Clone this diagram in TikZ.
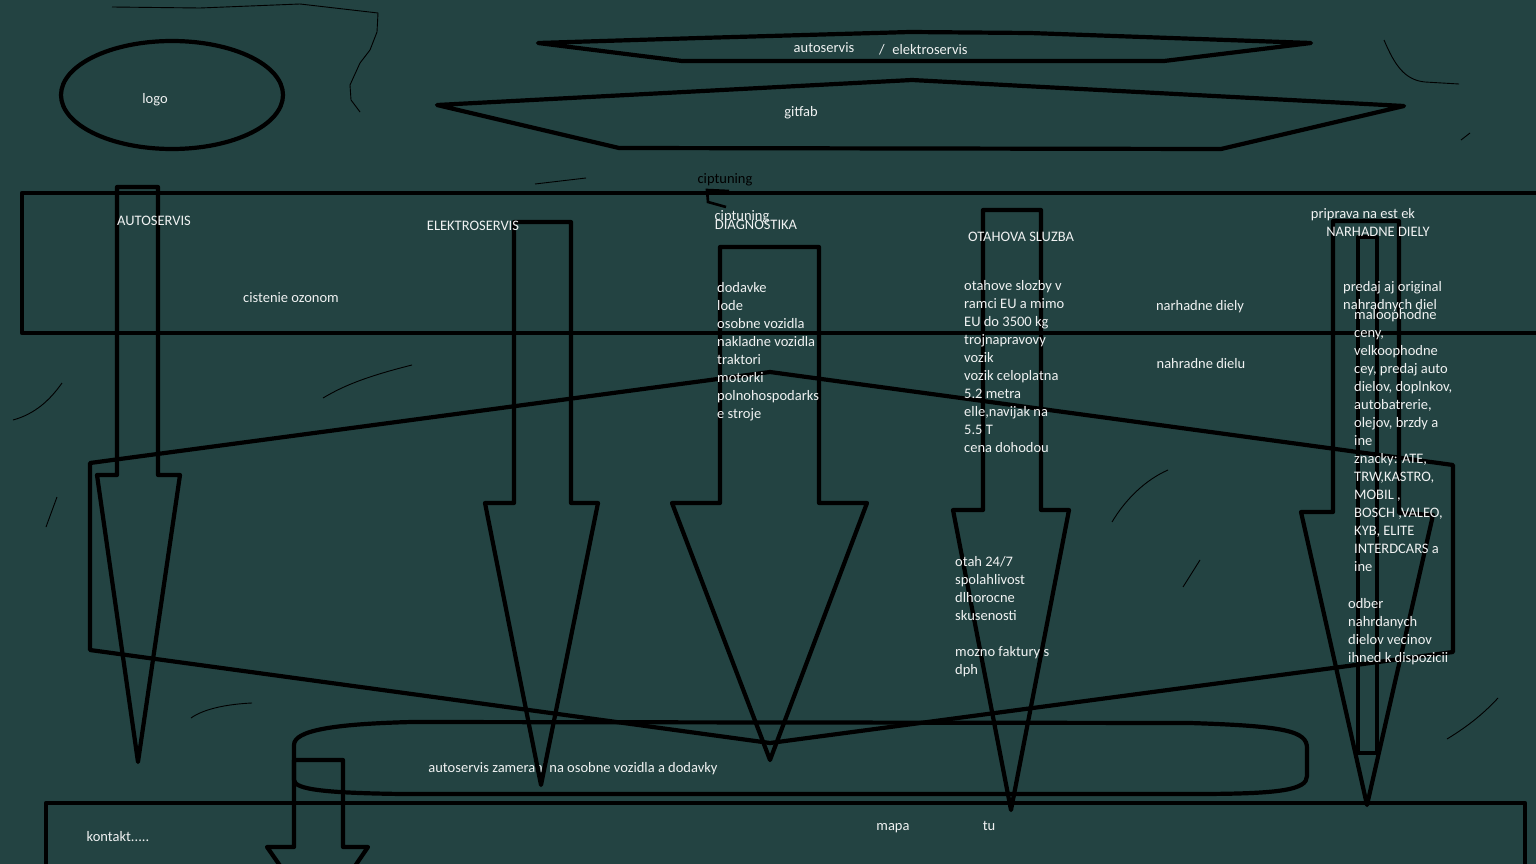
\documentclass[tikz,border=0pt]{standalone}
\usepackage{fontspec}
\setmainfont{Carlito}
\definecolor{boardTeal}{RGB}{35,67,66}
\definecolor{chalk}    {RGB}{240,242,242}
\usetikzlibrary{
  positioning,
}

\begin{document}
\begin{tikzpicture}[
  x=1pt, y=-1pt,
  ink/.style={line width=4.2pt, line join=round, draw=black},
  scrawl/.style={line width=0.9pt, draw=black},
  label/.style={font=\fontsize{14.5}{18}\selectfont, text=chalk, inner sep=0pt, anchor=base},
  list/.style={label, align=left, anchor=north west},
]
  % Board
  \useasboundingbox (0,0) rectangle (1536,864);
  \fill[boardTeal] (0,0) rectangle (1536,864);
  \clip (0,0) rectangle (1536,864);

  % Stray scribbles
  \draw[scrawl] (112,7) -- (200,8) -- (300,4) -- (378,13) -- (377,32) -- (370,50)
    -- (360,63) -- (350,85) -- (351,100) -- (360,112);
  \draw[scrawl] (535,184) -- (586,178);
  \draw[scrawl] (1384,40) .. controls (1395,66) and (1405,80) .. (1425,82) -- (1459,84);
  \draw[scrawl] (1461,140) -- (1470,133);
  \draw[scrawl] (13,420) .. controls (35,414) and (50,400) .. (62,383);
  \draw[scrawl] (46,527) -- (57,497);
  \draw[scrawl] (323,398) .. controls (340,388) and (360,378) .. (412,365);
  \draw[scrawl] (191,718) .. controls (205,708) and (230,704) .. (252,703);
  \draw[scrawl] (1447,739) .. controls (1470,725) and (1485,712) .. (1498,698);
  \draw[scrawl] (1112,522) .. controls (1125,500) and (1145,480) .. (1168,470);
  \draw[scrawl] (1183,587) -- (1200,560);

  % Header: logo and banners
  \draw[ink] (172,95) ellipse [x radius=111, y radius=54];
  \node[label] (logoText) at (155,104) {logo};

  \draw[ink] (538,43) -- (700,38) -- (910,32) -- (1030,33) -- (1311,43)
    -- (1164,61) -- (682,61) -- cycle;
  \node[label] (bannerAuto) at (824,53) {autoservis};
  \node[label] (bannerSlash) at (882,55) {/};
  \node[label] (bannerElektro) at (930,55) {elektroservis};

  \draw[ink] (437,105) -- (912,80) -- (1024,86) -- (1404,106)
    -- (1221,149) -- (619,148) -- cycle;
  \node[label] (gitfabText) at (801,117) {gitfab};

  % Menu band
  \draw[ink] (1545,193) -- (22,193) -- (22,333) -- (1545,333);
  \node[label, text=black] (ciptuningNote) at (725,183) {ciptuning};
  \draw[line width=2.6pt] (729,191) -- (707,190) -- (708,202) -- (726,207);

  % Big slanted panel
  \draw[ink] (90,463) -- (770,372) -- (1453,465) -- (1453,652)
    -- (770,743) -- (90,650) -- cycle;

  % Footer band and banner
  \draw[ink] (46,870) -- (46,803) -- (1525,803) -- (1525,870);
  \draw[ink] (412,722) -- (1190,723) .. controls (1285,726) and (1307,731) .. (1307,748)
    -- (1307,776) .. controls (1307,790) and (1280,794) .. (1194,794)
    -- (402,794) .. controls (330,793) and (294,790) .. (294,780)
    -- (294,745) .. controls (294,731) and (330,724) .. (412,722);
  \node[label] (focusText) at (573,772) {autoservis zamerani na osobne vozidla a dodavky};

  % Down arrows
  \draw[ink] (117,187) -- (158,187) -- (158,475) -- (180,475) -- (138,762)
    -- (97,475) -- (117,475) -- cycle;
  \draw[ink] (514,222) -- (571,222) -- (571,503) -- (598,503) -- (541,785)
    -- (485,503) -- (514,503) -- cycle;
  \draw[ink] (720,247) -- (819,247) -- (819,503) -- (867,503) -- (770,760)
    -- (672,503) -- (720,503) -- cycle;
  \draw[ink] (983,210) -- (1041,210) -- (1041,510) -- (1069,510) -- (1011,810)
    -- (953,510) -- (983,510) -- cycle;
  \draw[ink] (1333,221) -- (1399,221) -- (1399,513) -- (1433,515) -- (1367,805)
    -- (1301,512) -- (1333,512) -- cycle;
  \draw[ink] (1358,237) rectangle (1377,753);
  \draw[ink] (294,760) -- (343,760) -- (343,847) -- (368,847) -- (318,920)
    -- (267,847) -- (294,847) -- cycle;

  % Menu labels
  \node[label] (autoLabel) at (154,225) {AUTOSERVIS};
  \node[label] (elektroLabel) at (473,230) {ELEKTROSERVIS};
  \node[label] (ciptuningLabel) at (742,220) {ciptuning};
  \node[label] (diagLabel) at (756,229) {DIAGNOSTIKA};
  \node[label] (towLabel) at (1021,241) {OTAHOVA SLUZBA};
  \node[label] (prepLabel) at (1363,218) {priprava na est ek};
  \node[label] (partsLabel) at (1378,236) {NARHADNE DIELY};
  \node[label] (ozoneText) at (291,302) {cistenie ozonom};
  \node[label] (partsNoteA) at (1200,310) {narhadne diely};
  \node[label] (partsNoteB) at (1201,368) {nahradne dielu};

  % Lists
  \node[list] (diagList) at (717,282.5) {dodavke\\lode\\osobne vozidla\\nakladne vozidla\\traktori\\motorki\\polnohospodarks\\e stroje};
  \node[list] (towList) at (964,280.5) {otahove slozby v\\ramci EU a mimo\\EU do 3500 kg\\trojnapravovy\\vozik\\vozik celoplatna\\5.2 metra\\elle,navijak na\\5.5 T\\cena dohodou};
  \node[list] (towPerks) at (955,556) {otah 24/7\\spolahlivost\\dlhorocne\\skusenosti\\[18pt]mozno faktury s\\dph};
  \node[list] (partsIntro) at (1343,281.5) {predaj aj original\\nahradnych diel};
  \node[list] (partsList) at (1354,309.5) {maloophodne\\ceny,\\velkoophodne\\cey, predaj auto\\dielov, doplnkov,\\autobatrerie,\\olejov, brzdy a\\ine\\znacky: ATE,\\TRW,KASTRO,\\MOBIL ,\\BOSCH ,VALEO,\\KYB, ELITE\\INTERDCARS a\\ine};
  \node[list] (partsPickup) at (1348,598.5) {odber\\nahrdanych\\dielov vecinov\\ihned k dispozicii};

  % Footer labels
  \node[label] (contactText) at (118,841) {kontakt.....};
  \node[label] (mapText) at (893,830) {mapa};
  \node[label] (mapHere) at (989,830) {tu};
\end{tikzpicture}
\end{document}
